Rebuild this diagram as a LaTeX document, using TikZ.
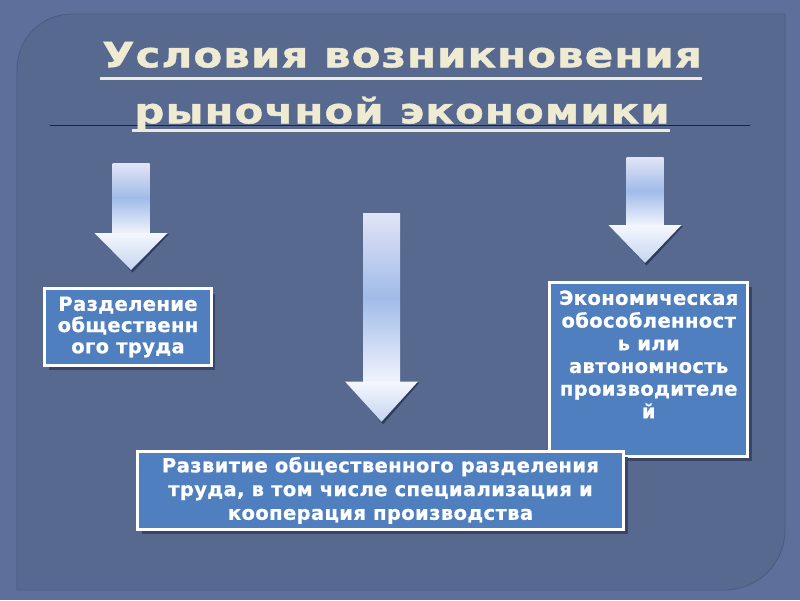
\documentclass[tikz,border=0pt]{standalone}
\usepackage{fontspec}
\setmainfont{DejaVu Sans}
\newfontfamily\titlefont{DejaVu Sans}[LetterSpace=3,FakeStretch=1.2,FakeBold=1.2]
\newfontfamily\boxfont{DejaVu Sans}[LetterSpace=2,FakeBold=0.8]
\usetikzlibrary{shadows}
\definecolor{outerbg}{HTML}{5F6F9C}
\definecolor{panelbg}{HTML}{57698F}
\definecolor{paneledge}{HTML}{4A5B82}
\definecolor{titlecol}{HTML}{EFEAD2}
\definecolor{rulecol}{HTML}{1A2342}
\definecolor{boxblue}{HTML}{4F7FBE}
\definecolor{boxshadow}{HTML}{3A4566}
\definecolor{shafttop}{HTML}{E2E4F6}
\definecolor{shaftmid}{HTML}{A0BBE9}
\definecolor{shaftbot}{HTML}{F0F3FC}
\definecolor{headtop}{HTML}{F5F7FD}
\definecolor{headbot}{HTML}{C4D5F1}
\definecolor{arrowshadow}{HTML}{2E3B5E}
% block arrow pointing down: centre x, top y, neck y, tip y
\newcommand{\condarrow}[4]{%
  \fill[arrowshadow] (#1-35,#3+1) -- (#1+1.5,#4+2.5) -- (#1+38,#3+1) -- cycle;
  \shade[top color=shafttop, bottom color=shaftbot, middle color=shaftmid] (#1-18.5,#2) rectangle (#1+18.5,#3);
  \shade[top color=headtop, bottom color=headbot] (#1-36.5,#3) -- (#1+36.5,#3) -- (#1,#4) -- cycle;
}
\begin{document}
\begin{tikzpicture}[x=1pt,y=-1pt]
    \tikzstyle{every node}+=[inner sep=0pt]
    \tikzstyle{titletext}=[text=titlecol, anchor=base, font=\titlefont\bfseries\fontsize{35pt}{40pt}\selectfont]
    \tikzstyle{titleline}=[draw=titlecol, line width=3pt]
    \tikzstyle{condbox}=[draw=white, line width=3pt, fill=boxblue, text=white, align=center,
        general shadow={fill=boxshadow, shadow xshift=4pt, shadow yshift=-5pt}]
    \useasboundingbox (0,0) rectangle (800,600);
    % background and panel
    \fill[outerbg] (0,0) rectangle (800,600);
    \fill[panelbg, draw=paneledge, line width=0.8pt] (17,590) -- (17,69) arc[start angle=180, end angle=270, radius=55]
        -- (785,14) -- (785,530) arc[start angle=0, end angle=90, radius=60] -- cycle;
    % title
    \draw[rulecol, line width=0.8pt] (50,125) -- (750,125);
    \node[titletext] (title1) at (402,67.3) {Условия возникновения};
    \node[titletext] (title2) at (402,123.3) {рыночной экономики};
    \draw[titleline] ([xshift=-2pt,yshift=-11pt]title1.base west) -- ([xshift=0pt,yshift=-11pt]title1.base east);
    \draw[titleline] ([xshift=-2pt,yshift=-7pt]title2.base west) -- ([xshift=0pt,yshift=-7pt]title2.base east);
    % arrows
    \condarrow{131}{163}{233}{270}
    \condarrow{381.5}{213}{381.5}{421.7}
    \condarrow{645}{157}{225}{263}
    % boxes
    \node[condbox, minimum width=166.4pt, minimum height=76.4pt, font=\boxfont\bfseries\fontsize{19.5pt}{21.2pt}\selectfont]
        (division) at (128,327) {Разделение\\общественн\\ого труда};
    \node[condbox, minimum width=197.7pt, minimum height=174.3pt, font=\boxfont\bfseries\fontsize{19.5pt}{22.7pt}\selectfont]
        (autonomy) at (648.7,369.3) {Экономическая\\обособленност\\ь или\\автономность\\производителе\\й\\[7.2pt]\mbox{}};
    \node[condbox, minimum width=486pt, minimum height=77.7pt, font=\boxfont\bfseries\fontsize{19.5pt}{23.7pt}\selectfont]
        (cooperation) at (380.5,490.35) {Развитие общественного разделения\\труда, в том числе специализация и\\кооперация производства};
\end{tikzpicture}
\end{document}
